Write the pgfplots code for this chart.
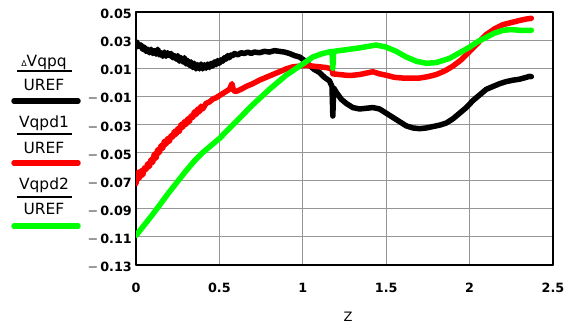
\documentclass[border=0pt]{standalone}
\usepackage{pgfplots}
\pgfplotsset{compat=1.18}
\usepackage{fontspec}
\setmainfont{DejaVu Sans}
\definecolor{gridgray}{RGB}{150,150,150}
\definecolor{pgreen}{RGB}{0,255,0}
\definecolor{pred}{RGB}{255,0,0}
\newcommand{\mn}{\textcolor{black!75}{\mdseries −}\,}
\begin{document}
\begin{tikzpicture}[x=1bp,y=1bp]
\useasboundingbox (0,0) rectangle (576,324);
\begin{axis}[
  at={(136bp,59bp)}, anchor=south west,
  scale only axis, width=417bp, height=253bp,
  xmin=0, xmax=2.5, ymin=-0.13, ymax=0.05,
  xtick={0,0.5,1,1.5,2,2.5},
  xticklabels={0,0.5,1,1.5,2,2.5},
  ytick={-0.13,-0.11,-0.09,-0.07,-0.05,-0.03,-0.01,0.01,0.03,0.05},
  yticklabels={\mn0.13,\mn0.11,\mn0.09,\mn0.07,\mn0.05,\mn0.03,\mn0.01,0.01,0.03,0.05},
  major tick length=0pt,
  grid=major,
  major grid style={gridgray, line width=1.1bp},
  axis line style={black, line width=1.3bp},
  tick label style={font=\fontsize{12.8}{14}\selectfont\bfseries},
  yticklabel style={anchor=east, inner sep=0pt, xshift=-4bp, yshift=-2bp},
  xticklabel style={anchor=north, inner sep=0pt, yshift=-18bp},
  line join=round, line cap=round,
]
\addplot[black, line width=5.5bp] coordinates {
(0,0.025)(0.005,0.0285)(0.01,0.026)(0.015,0.0275)(0.02,0.0255)(0.03,0.0265)(0.04,0.0235)(0.05,0.025)(0.06,0.022)(0.07,0.0235)(0.08,0.021)(0.09,0.0235)(0.10,0.0205)(0.11,0.0225)(0.12,0.020)(0.13,0.0235)(0.14,0.0195)(0.15,0.021)(0.16,0.0185)(0.17,0.0215)(0.18,0.0185)(0.19,0.021)(0.20,0.019)(0.21,0.0205)(0.22,0.0175)(0.23,0.019)(0.24,0.0165)(0.25,0.019)(0.26,0.015)(0.27,0.0175)(0.28,0.0145)(0.29,0.0175)(0.30,0.013)(0.31,0.0155)(0.32,0.012)(0.33,0.0145)(0.34,0.0105)(0.35,0.0135)(0.36,0.0095)(0.37,0.0125)(0.38,0.0095)(0.39,0.013)(0.40,0.0095)(0.41,0.0125)(0.42,0.010)(0.43,0.013)(0.44,0.0105)(0.45,0.0135)(0.46,0.0115)(0.47,0.0145)(0.48,0.0125)(0.49,0.0155)(0.50,0.0135)(0.51,0.016)(0.52,0.015)(0.53,0.0175)(0.54,0.0165)(0.55,0.019)(0.56,0.0175)(0.57,0.0195)(0.58,0.019)(0.59,0.0205)(0.61,0.0195)(0.63,0.021)(0.65,0.0205)(0.67,0.0215)(0.69,0.0205)(0.71,0.0215)(0.74,0.021)(0.77,0.022)(0.80,0.0215)(0.83,0.0225)(0.86,0.022)(0.89,0.0215)(0.92,0.0205)(0.95,0.019)(0.98,0.018)(1.01,0.0155)(1.04,0.012)(1.07,0.009)(1.10,0.007)(1.13,0.0035)(1.16,0.001)(1.175,-0.003)(1.18,-0.024)(1.185,-0.004)(1.20,-0.007)(1.23,-0.012)(1.26,-0.015)(1.30,-0.018)(1.34,-0.019)(1.38,-0.0185)(1.42,-0.018)(1.46,-0.019)(1.50,-0.022)(1.54,-0.025)(1.58,-0.028)(1.62,-0.031)(1.66,-0.0325)(1.70,-0.033)(1.74,-0.0325)(1.78,-0.0315)(1.82,-0.0305)(1.86,-0.029)(1.90,-0.026)(1.94,-0.022)(1.98,-0.018)(2.02,-0.013)(2.06,-0.009)(2.10,-0.005)(2.14,-0.003)(2.18,-0.001)(2.22,0.0005)(2.26,0.0015)(2.30,0.0022)(2.33,0.0032)(2.36,0.0042)(2.37,0.004)
};
\addplot[pred, line width=5.5bp] coordinates {
(0,-0.072)(0.005,-0.066)(0.01,-0.069)(0.015,-0.064)(0.02,-0.068)(0.03,-0.063)(0.04,-0.066)(0.05,-0.061)(0.06,-0.062)(0.07,-0.058)(0.08,-0.060)(0.09,-0.055)(0.10,-0.057)(0.11,-0.051)(0.12,-0.054)(0.13,-0.048)(0.14,-0.050)(0.15,-0.045)(0.16,-0.047)(0.17,-0.042)(0.18,-0.044)(0.19,-0.040)(0.20,-0.042)(0.21,-0.038)(0.22,-0.039)(0.23,-0.035)(0.24,-0.037)(0.25,-0.033)(0.26,-0.035)(0.27,-0.030)(0.28,-0.032)(0.29,-0.028)(0.30,-0.030)(0.31,-0.026)(0.32,-0.028)(0.33,-0.024)(0.34,-0.025)(0.35,-0.021)(0.36,-0.023)(0.37,-0.019)(0.38,-0.021)(0.39,-0.017)(0.40,-0.019)(0.42,-0.015)(0.44,-0.014)(0.46,-0.012)(0.48,-0.011)(0.50,-0.0095)(0.52,-0.008)(0.54,-0.0065)(0.56,-0.005)(0.575,-0.001)(0.585,-0.006)(0.60,-0.0065)(0.63,-0.005)(0.66,-0.003)(0.70,-0.001)(0.74,0.0015)(0.78,0.0035)(0.82,0.0055)(0.86,0.0075)(0.90,0.0095)(0.94,0.011)(0.98,0.0115)(1.02,0.012)(1.06,0.0115)(1.10,0.011)(1.14,0.0105)(1.175,0.0095)(1.18,0.006)(1.22,0.0055)(1.26,0.005)(1.30,0.005)(1.34,0.0055)(1.38,0.0065)(1.42,0.0075)(1.46,0.006)(1.50,0.005)(1.55,0.0035)(1.60,0.003)(1.65,0.003)(1.70,0.003)(1.75,0.004)(1.80,0.0055)(1.85,0.008)(1.90,0.0115)(1.95,0.016)(2.00,0.022)(2.05,0.028)(2.10,0.034)(2.15,0.038)(2.20,0.041)(2.25,0.0425)(2.30,0.044)(2.34,0.045)(2.37,0.0455)
};
\addplot[pgreen, line width=5.5bp] coordinates {
(0,-0.109)(0.05,-0.1015)(0.1,-0.094)(0.15,-0.086)(0.2,-0.078)(0.25,-0.0705)(0.3,-0.063)(0.35,-0.056)(0.4,-0.050)(0.45,-0.045)(0.5,-0.040)(0.55,-0.034)(0.6,-0.028)(0.65,-0.022)(0.7,-0.016)(0.75,-0.0105)(0.8,-0.005)(0.85,0.000)(0.9,0.005)(0.95,0.009)(1.0,0.013)(1.06,0.018)(1.12,0.0205)(1.175,0.022)(1.18,0.010)(1.185,0.022)(1.25,0.023)(1.34,0.0245)(1.44,0.0265)(1.5,0.025)(1.56,0.022)(1.62,0.018)(1.68,0.015)(1.74,0.0135)(1.80,0.014)(1.88,0.017)(1.94,0.021)(2.0,0.025)(2.05,0.029)(2.10,0.032)(2.15,0.035)(2.20,0.037)(2.25,0.0375)(2.30,0.037)(2.37,0.037)
};
\end{axis}
% legend
\begin{scope}[every node/.style={font=\fontsize{15.5}{17}\selectfont, inner sep=0pt}]
\node[anchor=base] at (44,258) {{\fontsize{8}{9}\selectfont Δ}Vqpq};
\draw[line width=1.2bp] (17,253) -- (72,253);
\node[anchor=base] at (44,234) {UREF};
\draw[black, line width=5.5bp, line cap=round] (14,223) -- (78,223);
\node[anchor=base] at (44,197) {Vqpd1};
\draw[line width=1.2bp] (17,190) -- (72,190);
\node[anchor=base] at (44,171) {UREF};
\draw[pred, line width=5.5bp, line cap=round] (14,161) -- (78,161);
\node[anchor=base] at (44,135) {Vqpd2};
\draw[line width=1.2bp] (17,127) -- (72,127);
\node[anchor=base] at (44,110) {UREF};
\draw[pgreen, line width=5.5bp, line cap=round] (14,98) -- (78,98);
\end{scope}
\node[font=\fontsize{13}{15}\selectfont] at (348,7) {Z};
\end{tikzpicture}
\end{document}
